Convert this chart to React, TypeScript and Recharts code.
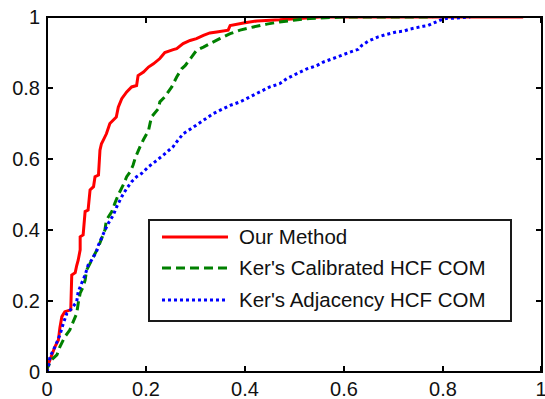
import { LineChart, Line, XAxis, YAxis, Legend } from "recharts";

const xTicks = [0, 0.2, 0.4, 0.6, 0.8, 1];
const yTicks = [0, 0.2, 0.4, 0.6, 0.8, 1];

const seriesNames = ["Our Method", "Ker's Calibrated HCF COM", "Ker's Adjacency HCF COM"];
const seriesColors = ["#ff0000", "#008000", "#0000ff"];
const seriesDashes = ["", "9 5", "3 3"];

// [x, y] pairs
const ourMethod: [number, number][] = [
  [0, 0], [0.002, 0.02], [0.006, 0.034], [0.016, 0.071], [0.023, 0.09], [0.026, 0.124],
  [0.03, 0.156], [0.036, 0.17], [0.048, 0.175], [0.05, 0.273], [0.057, 0.28], [0.06, 0.3],
  [0.063, 0.315], [0.067, 0.344], [0.067, 0.381], [0.073, 0.386], [0.077, 0.452], [0.083, 0.456],
  [0.087, 0.513], [0.094, 0.522], [0.097, 0.55], [0.104, 0.555], [0.107, 0.625], [0.11, 0.643],
  [0.114, 0.654], [0.12, 0.671], [0.127, 0.7], [0.14, 0.718], [0.144, 0.746], [0.151, 0.77],
  [0.161, 0.789], [0.171, 0.803], [0.181, 0.807], [0.184, 0.835], [0.195, 0.845], [0.205, 0.859],
  [0.215, 0.868], [0.228, 0.883], [0.238, 0.9], [0.255, 0.908], [0.262, 0.911], [0.275, 0.925],
  [0.289, 0.934], [0.302, 0.939], [0.316, 0.948], [0.329, 0.955], [0.343, 0.958], [0.366, 0.963],
  [0.37, 0.976], [0.397, 0.983], [0.424, 0.989], [0.47, 0.992], [0.51, 0.996], [0.55, 1], [0.962, 1],
];

const kerCalibrated: [number, number][] = [
  [0, 0], [0, 0.01], [0.009, 0.034], [0.02, 0.048], [0.026, 0.071], [0.036, 0.099], [0.046, 0.118],
  [0.053, 0.142], [0.06, 0.165], [0.063, 0.193], [0.067, 0.222], [0.073, 0.24], [0.077, 0.259],
  [0.08, 0.287], [0.087, 0.306], [0.094, 0.325], [0.104, 0.353], [0.117, 0.4], [0.12, 0.428],
  [0.131, 0.452], [0.137, 0.475], [0.144, 0.499], [0.154, 0.527], [0.161, 0.55], [0.168, 0.564],
  [0.174, 0.583], [0.178, 0.602], [0.188, 0.635], [0.195, 0.655], [0.205, 0.68], [0.211, 0.718],
  [0.225, 0.742], [0.228, 0.761], [0.238, 0.775], [0.252, 0.803], [0.262, 0.831], [0.272, 0.854],
  [0.279, 0.863], [0.292, 0.887], [0.302, 0.906], [0.316, 0.915], [0.329, 0.925], [0.349, 0.939],
  [0.37, 0.953], [0.39, 0.963], [0.417, 0.972], [0.444, 0.98], [0.47, 0.986], [0.498, 0.991],
  [0.531, 0.996], [0.6, 1], [0.78, 1],
];

const kerAdjacency: [number, number][] = [
  [0, 0], [0.003, 0.015], [0.006, 0.043], [0.016, 0.071], [0.026, 0.104], [0.033, 0.137],
  [0.04, 0.165], [0.05, 0.179], [0.06, 0.198], [0.063, 0.226], [0.07, 0.25], [0.077, 0.273],
  [0.083, 0.301], [0.09, 0.315], [0.094, 0.325], [0.1, 0.339], [0.104, 0.358], [0.114, 0.39],
  [0.124, 0.419], [0.134, 0.442], [0.141, 0.466], [0.151, 0.494], [0.161, 0.517], [0.171, 0.536],
  [0.181, 0.55], [0.191, 0.559], [0.205, 0.578], [0.218, 0.592], [0.235, 0.611], [0.255, 0.635],
  [0.259, 0.643], [0.275, 0.671], [0.296, 0.69], [0.316, 0.709], [0.336, 0.728], [0.349, 0.737],
  [0.37, 0.751], [0.39, 0.761], [0.41, 0.775], [0.43, 0.789], [0.45, 0.803], [0.47, 0.812],
  [0.484, 0.826], [0.504, 0.84], [0.525, 0.854], [0.545, 0.863], [0.558, 0.873], [0.578, 0.883],
  [0.595, 0.892], [0.612, 0.901], [0.629, 0.909], [0.636, 0.92], [0.649, 0.932], [0.669, 0.944],
  [0.686, 0.951], [0.706, 0.958], [0.72, 0.96], [0.733, 0.966], [0.747, 0.97], [0.76, 0.974],
  [0.77, 0.976], [0.781, 0.983], [0.794, 0.991], [0.807, 0.996], [0.828, 0.997], [0.855, 1],
];

const allSeries = [ourMethod, kerCalibrated, kerAdjacency];

const FONT = "'Liberation Sans', Arial, sans-serif";
const AXIS = "#000";
const PLOT = { left: 47, top: 17, width: 495, height: 355 };
const TICK = 6;

// MATLAB style: inward ticks on both opposite sides, label outside
function XTick(props: any) {
  const { x, y, payload } = props;
  return (
    <g>
      <line x1={x} x2={x} y1={y} y2={y - TICK} stroke={AXIS} strokeWidth={2} />
      <line x1={x} x2={x} y1={y - PLOT.height} y2={y - PLOT.height + TICK} stroke={AXIS} strokeWidth={2} />
      <text x={x} y={y + 10} dy="0.71em" textAnchor="middle" fill="#111" fontSize={20} fontFamily={FONT}>
        {payload.value}
      </text>
    </g>
  );
}

function YTick(props: any) {
  const { x, y, payload } = props;
  return (
    <g>
      <line x1={x} x2={x + TICK} y1={y} y2={y} stroke={AXIS} strokeWidth={2} />
      <line x1={x + PLOT.width} x2={x + PLOT.width - TICK} y1={y} y2={y} stroke={AXIS} strokeWidth={2} />
      <text x={x - 7} y={y} dy="0.36em" textAnchor="end" fill="#111" fontSize={20} fontFamily={FONT}>
        {payload.value}
      </text>
    </g>
  );
}

function LegendBox() {
  return (
    <div
      style={{
        width: 364,
        height: 103,
        boxSizing: "border-box",
        border: `2px solid #1a1a1a`,
        background: "#fff",
        fontFamily: FONT,
        fontSize: 20.5,
        color: "#111",
      }}
    >
      {seriesNames.map((name, i) => (
        <div key={name} style={{ display: "flex", alignItems: "center", height: 31.5 }}>
          <svg width={89} height={10} style={{ flex: "none" }}>
            <line
              x1={12}
              x2={78}
              y1={5}
              y2={5}
              stroke={seriesColors[i]}
              strokeWidth={3}
              strokeDasharray={seriesDashes[i] || undefined}
            />
          </svg>
          <span style={{ whiteSpace: "nowrap", lineHeight: 1 }}>{name}</span>
        </div>
      ))}
    </div>
  );
}

export default function App() {
  return (
    <div style={{ position: "absolute", left: 0, top: 0, width: 545, height: 399, background: "#fff" }}>
      <LineChart
        width={545}
        height={399}
        margin={{ top: PLOT.top, right: 545 - PLOT.left - PLOT.width, bottom: 0, left: 0 }}
      >
        <XAxis
          dataKey="x"
          type="number"
          domain={[0, 1]}
          ticks={xTicks}
          height={27}
          tickSize={0}
          tickMargin={0}
          axisLine={false}
          tickLine={false}
          tick={<XTick />}
          allowDataOverflow
        />
        <YAxis
          type="number"
          domain={[0, 1]}
          ticks={yTicks}
          width={PLOT.left}
          tickSize={0}
          tickMargin={0}
          axisLine={false}
          tickLine={false}
          tick={<YTick />}
          allowDataOverflow
        />
        {allSeries.map((pts, i) => (
          <Line
            key={seriesNames[i]}
            name={seriesNames[i]}
            data={pts.map(([x, y]) => ({ x, y }))}
            dataKey="y"
            type="linear"
            stroke={seriesColors[i]}
            strokeWidth={3}
            strokeDasharray={seriesDashes[i] || undefined}
            dot={false}
            activeDot={false}
            isAnimationActive={false}
          />
        ))}
        <Legend
          layout="vertical"
          align="center"
          verticalAlign="middle"
          content={() => <LegendBox />}
          wrapperStyle={{ left: 148, top: 219, width: 364, height: 103 }}
        />
      </LineChart>
      {/* axes box */}
      <div
        style={{
          position: "absolute",
          left: PLOT.left - 1,
          top: PLOT.top - 1,
          width: PLOT.width + 2,
          height: PLOT.height + 2,
          boxSizing: "border-box",
          border: `2px solid ${AXIS}`,
          pointerEvents: "none",
        }}
      />
    </div>
  );
}
